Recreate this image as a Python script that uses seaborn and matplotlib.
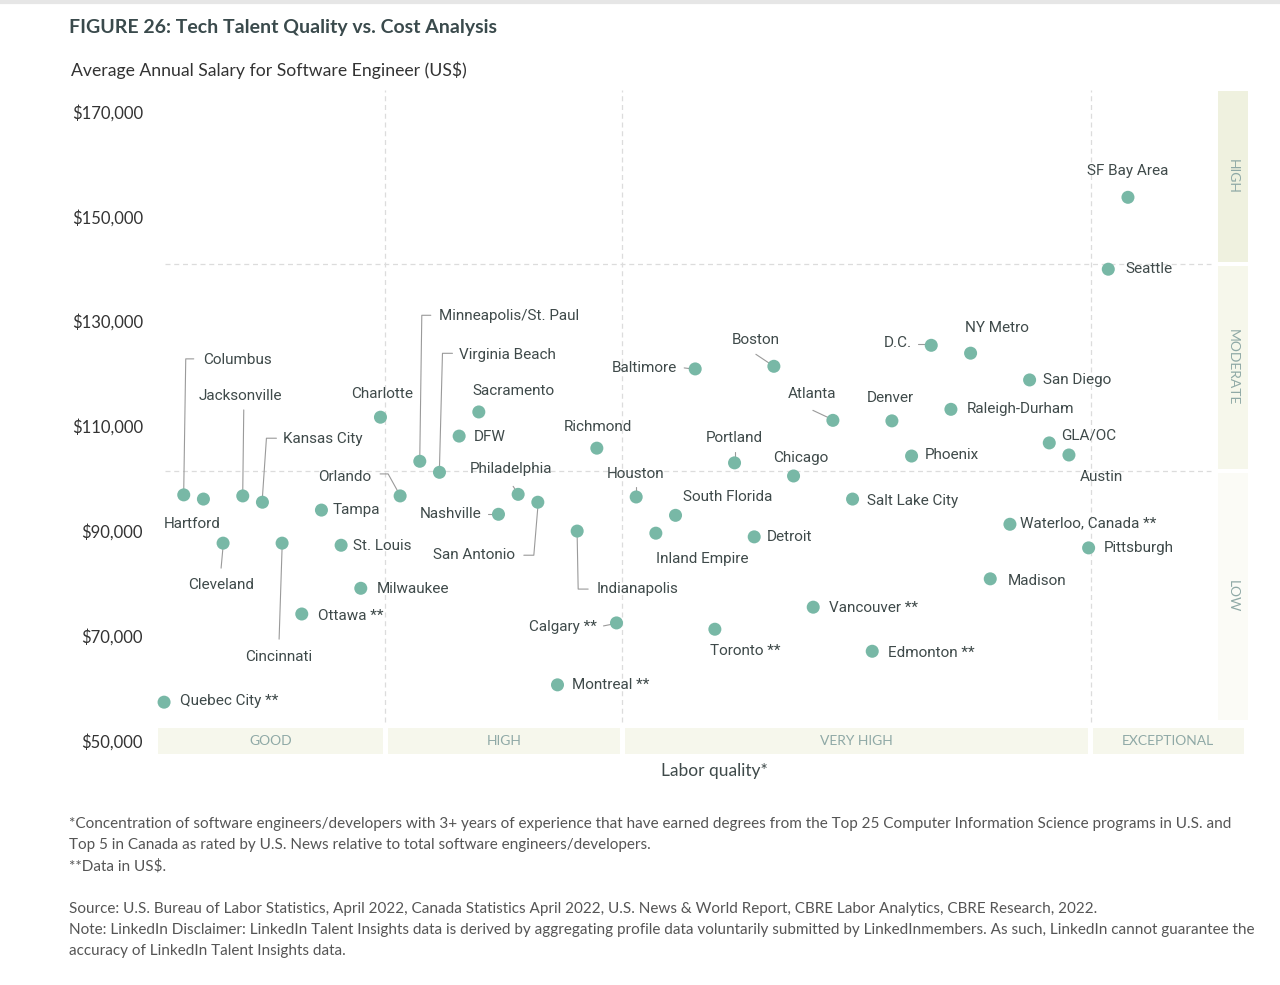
"""Figure 26: tech talent quality vs. cost - scatter of salary by labor quality rank"""
import numpy as np
import pandas as pd
import matplotlib
matplotlib.use("Agg")
import matplotlib.pyplot as plt
from matplotlib.patches import Rectangle
import seaborn as sns

# cities in order of labor quality (rank 1 = lowest quality)
cities = [
    "Quebec City **", "Columbus", "Hartford", "Cleveland", "Jacksonville",
    "Kansas City", "Cincinnati", "Ottawa **", "Tampa", "St. Louis",
    "Milwaukee", "Charlotte", "Orlando", "Minneapolis/St. Paul", "Virginia Beach",
    "DFW", "Sacramento", "Nashville", "Philadelphia", "San Antonio",
    "Montreal **", "Indianapolis", "Richmond", "Calgary **", "Houston",
    "Inland Empire", "South Florida", "Baltimore", "Toronto **", "Portland",
    "Detroit", "Boston", "Chicago", "Vancouver **", "Atlanta",
    "Salt Lake City", "Edmonton **", "Denver", "Phoenix", "D.C.",
    "Raleigh-Durham", "NY Metro", "Madison", "Waterloo, Canada **", "San Diego",
    "GLA/OC", "Austin", "Pittsburgh", "Seattle", "SF Bay Area",
]
quality_rank = list(range(1, len(cities) + 1))
salary = [
    57400, 96900, 96100, 87700, 96700,
    95500, 87700, 74200, 94000, 87300,
    79100, 111700, 96700, 103300, 101200,
    108100, 112700, 93200, 97000, 95500,
    60700, 90000, 105800, 72500, 96500,
    89600, 93000, 120900, 71300, 103000,
    88900, 121400, 100500, 75500, 111100,
    96100, 67100, 111000, 104300, 125400,
    113200, 123900, 80900, 91300, 118800,
    106800, 104500, 86800, 139900, 153600,
]

# labor quality tiers (x) and salary cost tiers (y)
tier_names = ["GOOD", "HIGH", "VERY HIGH", "EXCEPTIONAL"]
tier_edges = [0.57, 12.25, 24.3, 48.1, 56.0]
cost_names = ["LOW", "MODERATE", "HIGH"]
cost_edges = [53600, 101400, 140900, 174200]

# label placement: offset of label from dot in pixels (dx right, dy down), alignment,
# and optional leader line vertices (same offset units)
label_pos = {
    "Quebec City **": (16, -1, "left", None),
    "Columbus": (19, -135, "left", [(0, -5), (2, -136), (10, -136)]),
    "Hartford": (-11, 25, "center", None),
    "Cleveland": (-2, 42, "center", [(0, 3), (-2, 25)]),
    "Jacksonville": (-2, -100, "center", [(0, -5), (1, -86)]),
    "Kansas City": (21, -63, "left", [(0, -5), (4, -64), (14, -64)]),
    "Cincinnati": (-3, 114, "center", [(0, 4), (-3, 96)]),
    "Ottawa **": (16, 2, "left", None),
    "Tampa": (11, 0, "left", None),
    "St. Louis": (12, 1, "left", None),
    "Milwaukee": (16, 1, "left", None),
    "Charlotte": (2, -23, "center", None),
    "Orlando": (-29, -19, "right", [(-2, -4), (-12, -22), (-20, -22)]),
    "Minneapolis/St. Paul": (19, -145, "left", [(0, -5), (2, -146), (11, -146)]),
    "Virginia Beach": (20, -117, "left", [(0, -5), (3, -119), (13, -119)]),
    "DFW": (15, 1, "left", None),
    "Sacramento": (-6, -21, "left", None),
    "Nashville": (-17, 0, "right", [(-4, 0), (-10, 0)]),
    "Philadelphia": (-7, -25, "center", [(-1, -2), (-5, -8)]),
    "San Antonio": (-23, 53, "right", [(0, 5), (-4, 53), (-14, 53)]),
    "Montreal **": (15, 0, "left", None),
    "Indianapolis": (19, 58, "left", [(0, 5), (1, 58), (11, 58)]),
    "Richmond": (1, -21, "center", None),
    "Calgary **": (-20, 4, "right", [(-3, 1), (-13, 3)]),
    "Houston": (-1, -23, "center", [(0, -3), (0, -10)]),
    "Inland Empire": (0, 26, "left", None),
    "South Florida": (7, -18, "left", None),
    "Baltimore": (-18, -1, "right", [(-3, 0), (-11, -1)]),
    "Toronto **": (-5, 22, "left", None),
    "Portland": (0, -25, "center", [(0, -3), (0, -11)]),
    "Detroit": (13, 0, "left", None),
    "Boston": (-18, -26, "center", [(-3, -2), (-18, -12)]),
    "Chicago": (7, -18, "center", None),
    "Vancouver **": (16, 1, "left", None),
    "Atlanta": (-21, -26, "center", [(-3, -2), (-20, -10)]),
    "Salt Lake City": (14, 2, "left", None),
    "Edmonton **": (16, 2, "left", None),
    "Denver": (-2, -23, "center", None),
    "Phoenix": (13, -1, "left", None),
    "D.C.": (-19, -2, "right", [(-3, -1), (-13, -1)]),
    "Raleigh-Durham": (16, 0, "left", None),
    "NY Metro": (-6, -25, "left", None),
    "Madison": (17, 2, "left", None),
    "Waterloo, Canada **": (10, -1, "left", None),
    "San Diego": (13, 0, "left", None),
    "GLA/OC": (12, -7, "left", None),
    "Austin": (11, 22, "left", None),
    "Pittsburgh": (15, 0, "left", None),
    "Seattle": (17, 0, "left", None),
    "SF Bay Area": (0, -26, "center", None),
}

footnotes = [
    "*Concentration of software engineers/developers with 3+ years of experience that have earned degrees from the Top 25 Computer Information Science programs in U.S. and",
    "Top 5 in Canada as rated by U.S. News relative to total software engineers/developers.",
    "**Data in US$.",
]
sources = [
    "Source: U.S. Bureau of Labor Statistics, April 2022, Canada Statistics April 2022, U.S. News & World Report, CBRE Labor Analytics, CBRE Research, 2022.",
    "Note: LinkedIn Disclaimer: LinkedIn Talent Insights data is derived by aggregating profile data voluntarily submitted by LinkedInmembers. As such, LinkedIn cannot guarantee the",
    "accuracy of LinkedIn Talent Insights data.",
]

df = pd.DataFrame({"city": cities, "quality": quality_rank, "salary": salary})

sns.set_theme(style="white")
plt.rcParams["font.family"] = ["Lato", "DejaVu Sans"]
label_font = ["Roboto", "DejaVu Sans"]

DOT = "#78b8a6"
TEXT = "#3f4a4a"
BAND_TXT = "#8fa9a6"
GRID = "#dcdcdc"

fig = plt.figure(figsize=(12.8, 9.85), dpi=100)
ax = fig.add_axes([0.1205, 0.2264, 0.856, 0.6873])
ax.set_xlim(0.5, 56.2)
ax.set_ylim(46000, 175000)

# tier dividers
ax.hlines(cost_edges[1:3], 1.05, 54.2, colors=GRID, linestyles=(0, (4, 3)), lw=0.9, zorder=1)
ax.vlines(tier_edges[1:4], cost_edges[0], 174000, colors=GRID, linestyles=(0, (4, 3)), lw=0.9, zorder=1)

# labor quality bands along the bottom
for i, name in enumerate(tier_names):
    lo, hi = tier_edges[i] + 0.12, tier_edges[i + 1] - 0.12
    ax.add_patch(Rectangle((lo, 47600), hi - lo, 4900, color="#f6f7ec", lw=0, clip_on=False, zorder=0))
    ax.text((lo + hi) / 2, 50000, name, ha="center", va="center", fontsize=10, color=BAND_TXT)

# salary cost bands on the right
band_cols = ["#fbfbf6", "#f6f7eb", "#eff1df"]
for i, name in enumerate(cost_names):
    lo, hi = cost_edges[i] + 350, cost_edges[i + 1] - 350
    ax.add_patch(Rectangle((54.6, lo), 1.5, hi - lo, color=band_cols[i], lw=0, clip_on=False, zorder=0))
    ax.text(55.35, (lo + hi) / 2, name, ha="center", va="center", rotation=270,
            fontsize=10, color=BAND_TXT)

sns.scatterplot(data=df, x="quality", y="salary", s=88, color=DOT, edgecolor="none",
                legend=False, ax=ax, zorder=3)

# labels and leader lines
to_data = ax.transData.inverted()
for _, row in df.iterrows():
    dx, dy, ha, leader = label_pos[row["city"]]
    ax.annotate(row["city"], (row["quality"], row["salary"]), xytext=(dx, -dy),
                textcoords="offset pixels", ha=ha, va="center", fontsize=11,
                family=label_font, color=TEXT, zorder=4)
    if leader:
        px, py = ax.transData.transform((row["quality"], row["salary"]))
        pts = to_data.transform([(px + a, py - b) for a, b in leader])
        ax.plot(pts[:, 0], pts[:, 1], color="#9a9a9a", lw=0.8, zorder=2)

ax.set_yticks(range(50000, 170001, 20000))
ax.set_yticklabels([f"${v:,}" for v in range(50000, 170001, 20000)])
ax.set_xticks([])
ax.tick_params(axis="y", length=0, pad=8, labelsize=12, labelcolor="#333333")
ax.set_xlabel("")
ax.set_ylabel("")
for s in ax.spines.values():
    s.set_visible(False)

fig.add_artist(plt.Line2D([0, 1], [0.998, 0.998], color="#e6e6e6", lw=3))
fig.text(69 / 1280, 1 - 28 / 985, "FIGURE 26: Tech Talent Quality vs. Cost Analysis",
         fontsize=14, weight="bold", color="#3a4a4c", va="center")
fig.text(71 / 1280, 1 - 70 / 985, "Average Annual Salary for Software Engineer (US$)",
         fontsize=12.7, color="#333333", va="center")
fig.text(714 / 1280, 1 - 771 / 985, "Labor quality*", fontsize=12.5, color=TEXT,
         ha="center", va="center")

for i, line in enumerate(footnotes):
    fig.text(69 / 1280, 1 - (824 + 21 * i) / 985, line, fontsize=11, color="#555555", va="center")
for i, line in enumerate(sources):
    fig.text(69 / 1280, 1 - (909 + 21 * i) / 985, line, fontsize=11, color="#555555", va="center")

fig.savefig("out.png", dpi=100)
